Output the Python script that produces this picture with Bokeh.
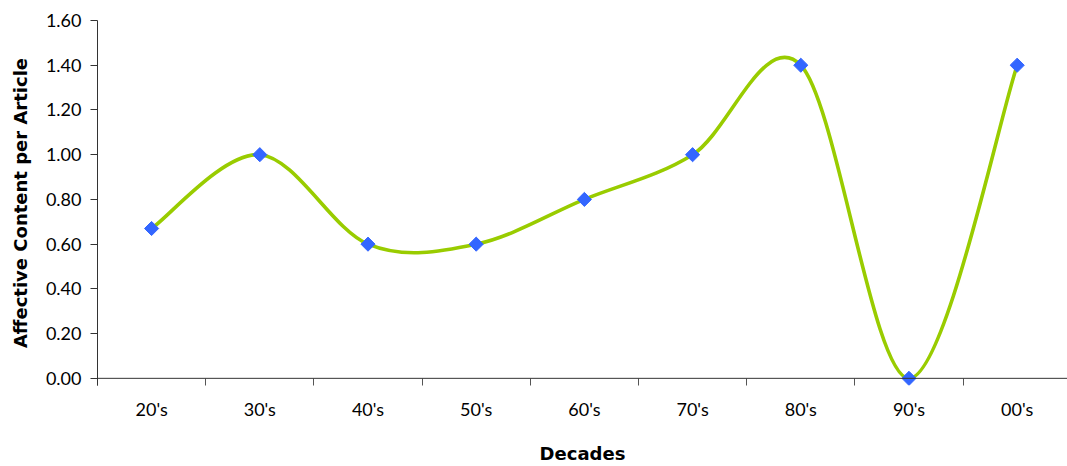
import numpy as np
from bokeh.plotting import figure
from bokeh.models import ColumnDataSource, Range1d, FixedTicker, NumeralTickFormatter, Span
from bokeh.embed import file_html
from bokeh.resources import INLINE

# ---- data ----
decades = ["20's", "30's", "40's", "50's", "60's", "70's", "80's", "90's", "00's"]
affect = [0.67, 1.00, 0.60, 0.60, 0.80, 1.00, 1.40, 0.00, 1.40]
y_ticks = [0.0, 0.2, 0.4, 0.6, 0.8, 1.0, 1.2, 1.4, 1.6]

FONT = "Lato"
TITLE_FONT = "DejaVu Sans"
LINE_COLOR = "#99CC00"
MARK_COLOR = "#3366FF"
AXIS_COLOR = "#333333"

xs = np.arange(len(decades)) + 0.5
ys = np.array(affect, dtype=float)

# Excel-style smoothed line: Catmull-Rom segments as cubic Beziers
n = len(xs)
prev_i = np.maximum(np.arange(n) - 1, 0)
next_i = np.minimum(np.arange(n) + 1, n - 1)
seg = np.arange(n - 1)
bez = ColumnDataSource(dict(
    x0=xs[seg], y0=ys[seg], x1=xs[seg + 1], y1=ys[seg + 1],
    cx0=xs[seg] + (xs[seg + 1] - xs[prev_i[seg]]) / 6,
    cy0=ys[seg] + (ys[seg + 1] - ys[prev_i[seg]]) / 6,
    cx1=xs[seg + 1] - (xs[next_i[seg + 1]] - xs[seg]) / 6,
    cy1=ys[seg + 1] - (ys[next_i[seg + 1]] - ys[seg]) / 6,
))
pts = ColumnDataSource(dict(x=xs, y=ys))

p = figure(width=1067, height=466, output_backend="svg", toolbar_location=None,
           x_range=Range1d(0, 8.965), y_range=Range1d(-0.032, 1.6),
           min_border_left=97, min_border_right=0, min_border_top=20, min_border_bottom=81)
p.outline_line_color = None
p.xgrid.grid_line_color = None
p.ygrid.grid_line_color = None
p.background_fill_color = "white"
p.border_fill_color = "white"

# x axis line at value 0
p.add_layout(Span(location=0, dimension="width", line_color=AXIS_COLOR, line_width=1))

p.bezier(x0="x0", y0="y0", x1="x1", y1="y1", cx0="cx0", cy0="cy0", cx1="cx1", cy1="cy1",
         source=bez, line_color=LINE_COLOR, line_width=3.6, line_cap="round")
p.scatter(x="x", y="y", source=pts, marker="square", angle=np.pi / 4, size=10,
          fill_color=MARK_COLOR, line_color=MARK_COLOR)

# x axis: labels at category centres, ticks at boundaries
xa = p.xaxis[0]
xa.ticker = FixedTicker(ticks=list(xs), minor_ticks=list(range(n + 1)))
xa.major_label_overrides = {float(x): d for x, d in zip(xs, decades)}
xa.major_tick_in = 0
xa.major_tick_out = 0
xa.major_tick_line_color = None
xa.minor_tick_in = 7
xa.minor_tick_out = 0
xa.minor_tick_line_color = "#555555"
xa.axis_line_color = None
xa.major_label_standoff = 12
xa.major_label_text_font = FONT
xa.major_label_text_font_size = "18px"
xa.major_label_text_color = "black"
xa.axis_label = "Decades"
xa.axis_label_text_font = TITLE_FONT
xa.axis_label_text_font_size = "18px"
xa.axis_label_text_font_style = "bold"
xa.axis_label_text_color = "black"
xa.axis_label_standoff = 20

ya = p.yaxis[0]
ya.ticker = FixedTicker(ticks=y_ticks)
ya.formatter = NumeralTickFormatter(format="0.00")
ya.major_tick_in = 0
ya.major_tick_out = 7
ya.minor_tick_line_color = None
ya.major_tick_line_color = AXIS_COLOR
ya.axis_line_color = AXIS_COLOR
ya.major_label_standoff = 9
ya.major_label_text_font = FONT
ya.major_label_text_font_size = "18px"
ya.major_label_text_color = "black"
ya.axis_label = "Affective Content per Article"
ya.axis_label_text_font = TITLE_FONT
ya.axis_label_text_font_size = "18px"
ya.axis_label_text_font_style = "bold"
ya.axis_label_text_color = "black"
ya.axis_label_standoff = 12

open("out.html", "w").write(file_html(p, INLINE))
